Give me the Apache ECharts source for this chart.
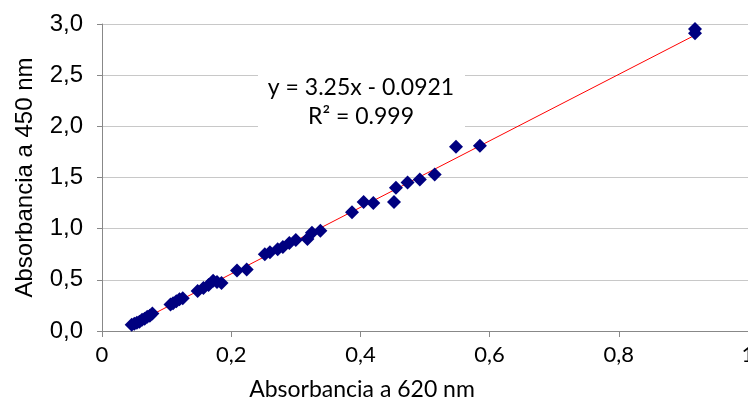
<!DOCTYPE html>
<html><head><meta charset="utf-8">
<script src="https://cdn.jsdelivr.net/npm/echarts@6/dist/echarts.min.js"></script>
<style>html,body{margin:0;padding:0;background:#fff}#c{width:748px;height:403px}</style>
</head><body><div id="c"></div>
<script>
const absorb620 = [0.046,0.050,0.054,0.058,0.062,0.066,0.070,0.074,0.078,
  0.106,0.110,0.115,0.120,0.125,
  0.148,0.157,0.165,0.172,0.178,0.185,
  0.209,0.224,
  0.252,0.260,0.272,0.280,0.290,0.300,0.318,0.325,0.338,
  0.387,0.405,0.420,0.452,0.455,0.473,0.492,0.515,0.548,0.585,0.918,0.918];
const absorb450 = [0.06,0.07,0.08,0.09,0.11,0.12,0.14,0.15,0.17,
  0.26,0.27,0.29,0.31,0.32,
  0.39,0.42,0.45,0.49,0.48,0.47,
  0.59,0.60,
  0.75,0.77,0.80,0.82,0.86,0.89,0.90,0.96,0.98,
  1.16,1.26,1.25,1.26,1.40,1.45,1.48,1.53,1.80,1.81,2.91,2.95];
const slope = 3.25, intercept = -0.0921;
const eqText = 'y = 3.25x - 0.0921';
const r2Text = 'R² = 0.999';
const xTitle = 'Absorbancia a 620 nm';
const yTitle = 'Absorbancia a 450 nm';

const points = absorb620.map((x,i)=>[x, absorb450[i]]);
const xMin = Math.min(...absorb620), xMax = Math.max(...absorb620);
const trend = [[xMin, slope*xMin+intercept],[xMax, slope*xMax+intercept]];

const chart = echarts.init(document.getElementById('c'));
chart.setOption({
  animation:false,
  grid:{left:102, top:24, right:0, bottom:72, containLabel:false, outerBoundsMode:'none'},
  xAxis:{type:'value', min:0, max:1, interval:0.2,
    name:xTitle, nameLocation:'middle', nameGap:47,
    nameTextStyle:{fontFamily:'Lato', fontSize:23, color:'#000', padding:[0,126,0,0]},
    axisLine:{show:true, onZero:false, lineStyle:{color:'#888', width:1}},
    axisTick:{show:true, length:6, lineStyle:{color:'#888'}},
    axisLabel:{fontFamily:'Lato', fontSize:22, color:'#000', margin:13, hideOverlap:false,
      formatter:v=>String(+v.toFixed(1)).replace('.',',')},
    splitLine:{show:false}},
  yAxis:{type:'value', min:0, max:3, interval:0.5,
    name:yTitle, nameLocation:'middle', nameGap:65, nameRotate:90,
    nameTextStyle:{fontFamily:'Liberation Sans', fontSize:24, color:'#000'},
    axisLine:{show:true, lineStyle:{color:'#888', width:1}},
    axisTick:{show:true, length:5, lineStyle:{color:'#888'}},
    axisLabel:{fontFamily:'Liberation Sans', fontSize:24, color:'#000', margin:19,
      formatter:v=>v.toFixed(1).replace('.',',')},
    splitLine:{show:true, lineStyle:{color:'#c8c8c8', width:1}}},
  graphic:[
    {type:'rect', shape:{x:258, y:70, width:207, height:62}, style:{fill:'#fff'}, z:1},
    {type:'text', x:361, y:88, z:2, style:{text:eqText, font:'23px Lato', fill:'#000', align:'center', verticalAlign:'middle', textAlign:'center', textVerticalAlign:'middle'}},
    {type:'text', x:361, y:117, z:2, style:{text:r2Text, font:'23px Lato', fill:'#000', align:'center', verticalAlign:'middle', textAlign:'center', textVerticalAlign:'middle'}}
  ],
  series:[
    {type:'line', data:trend, symbol:'none', lineStyle:{color:'#ff0000', width:1}, z:3},
    {type:'scatter', data:points, symbol:'diamond', symbolSize:14, itemStyle:{color:'#000080', opacity:1}, z:4}
  ]
});
</script></body></html>
